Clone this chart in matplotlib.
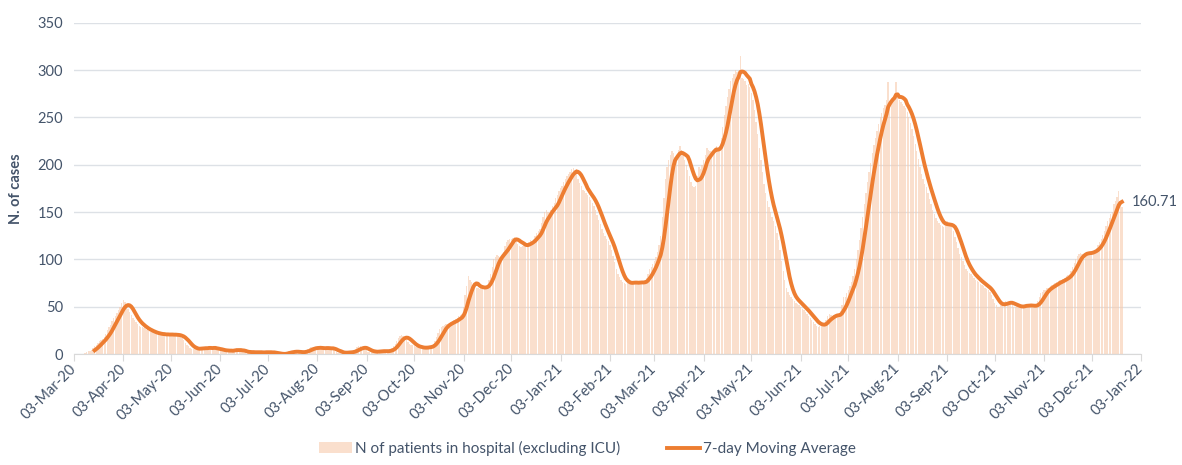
import pandas as pd
import matplotlib
matplotlib.use('Agg')
import matplotlib.pyplot as plt

plt.rcParams['font.family'] = ['Lato', 'DejaVu Sans']

# daily patients in hospital (excluding ICU)
mar20 = [1, 2, 3, 3, 4, 6, 8, 10, 12, 14, 15, 16, 18, 21, 25, 28, 31, 35, 38, 40, 43, 46]  # from 10 Mar
apr20 = [50, 54, 57, 55, 52, 48, 44, 41, 38, 36, 34, 32, 30, 29, 28, 27, 26, 25, 24, 23,
         23, 22, 22, 21, 21, 21, 20, 21, 21, 20]
may20 = [21, 20, 21, 20, 20, 21, 19, 20, 18, 17, 15, 12, 10, 8, 6, 5, 5, 6, 6, 5,
         6, 7, 6, 6, 7, 6, 7, 6, 6, 7, 6]
jun20 = [4, 4, 4, 4, 3, 4, 4, 3, 3, 4, 3, 5, 6, 5, 3, 3, 2, 2, 2, 2,
         2, 2, 2, 2, 1, 2, 2, 2, 2, 1]
jul20 = [2, 2, 2, 2, 2, 1, 1, 0, 0, 0, 0, 0, 0, 1, 2, 3, 3, 3, 2, 2,
         2, 2, 2, 2, 2, 2, 4, 5, 6, 7, 7]
aug20 = [7, 6, 6, 6, 7, 6, 6, 6, 7, 6, 5, 6, 6, 3, 2, 1, 1, 1, 1, 2,
         2, 2, 2, 2, 2, 3, 5, 7, 8, 8, 7]
sep20 = [6, 5, 4, 2, 2, 2, 2, 3, 3, 3, 3, 3, 3, 3, 3, 3, 3, 5, 6, 8,
         11, 14, 17, 19, 20, 19, 17, 15, 13, 11]
oct20 = [10, 9, 8, 7, 7, 6, 7, 7, 6, 7, 7, 8, 8, 9, 11, 14, 18, 22, 26, 28,
         30, 31, 32, 32, 33, 34, 35, 36, 37, 38, 40]
nov20 = [41, 42, 50, 62, 72, 82, 78, 76, 73, 71, 70, 70, 69, 70, 72, 70, 71, 73, 78, 84,
         92, 100, 103, 105, 104, 103, 104, 108, 114, 118]
dec20 = [120, 122, 121, 123, 124, 120, 116, 114, 113, 114, 116, 115, 117, 118, 120, 119, 122, 125, 128, 130,
         132, 138, 145, 150, 152, 150, 148, 152, 156, 160, 165]
jan21 = [168, 172, 175, 178, 182, 185, 188, 190, 192, 195, 196, 194, 195, 185, 181, 177, 173, 172, 170, 168,
         166, 163, 160, 156, 152, 147, 142, 137, 132, 128, 125]
feb21 = [122, 119, 115, 110, 104, 97, 90, 85, 81, 78, 76, 75, 74, 76, 75, 74, 76, 77, 76, 74,
         75, 76, 75, 76, 78, 80, 84, 90]
mar21 = [92, 95, 98, 102, 108, 115, 125, 145, 165, 185, 198, 205, 210, 214, 212, 208, 204, 215, 220, 216,
         210, 205, 200, 194, 188, 182, 178, 176, 178, 188, 198]
apr21 = [195, 200, 205, 210, 218, 216, 214, 212, 215, 218, 220, 216, 220, 228, 240, 252, 262, 272, 280, 288,
         292, 296, 300, 298, 296, 315, 292, 290, 288, 284]
may21 = [285, 282, 276, 268, 258, 245, 232, 218, 205, 192, 180, 170, 162, 155, 150, 145, 140, 135, 128, 120,
         110, 98, 88, 78, 70, 66, 62, 60, 58, 56, 54]
jun21 = [53, 52, 50, 48, 46, 44, 42, 40, 38, 36, 34, 32, 30, 29, 30, 31, 32, 33, 36, 40,
         42, 41, 40, 41, 40, 41, 42, 45, 52, 60]
jul21 = [60, 64, 68, 72, 76, 82, 90, 100, 110, 120, 133, 145, 158, 170, 182, 192, 202, 212, 221, 228,
         236, 243, 250, 255, 260, 263, 268, 287, 266, 268, 270]
aug21 = [272, 287, 270, 268, 266, 264, 262, 260, 256, 250, 244, 238, 230, 222, 214, 206, 198, 190, 185, 180,
         176, 170, 164, 158, 152, 148, 144, 140, 138, 136, 135]
sep21 = [134, 138, 140, 138, 136, 134, 130, 124, 118, 112, 106, 102, 98, 94, 90, 88, 86, 84, 82, 80,
         78, 77, 76, 74, 73, 72, 70, 69, 68, 66]
oct21 = [62, 58, 54, 52, 50, 50, 52, 54, 55, 56, 55, 54, 53, 52, 50, 50, 51, 50, 49, 50,
         51, 52, 53, 52, 51, 50, 49, 50, 52, 56, 60]
nov21 = [64, 66, 68, 68, 70, 70, 72, 73, 74, 75, 76, 77, 78, 78, 79, 80, 82, 83, 85, 88,
         92, 96, 100, 104, 106, 107, 106, 105, 106, 107]
dec21 = [107, 108, 108, 109, 110, 112, 115, 118, 122, 126, 130, 135, 140, 144, 148, 150, 158, 162, 166, 172,
         162, 155]  # to 22 Dec

hospital = (mar20 + apr20 + may20 + jun20 + jul20 + aug20 + sep20 + oct20 + nov20 + dec20
            + jan21 + feb21 + mar21 + apr21 + may21 + jun21 + jul21 + aug21 + sep21 + oct21
            + nov21 + dec21)
dates = pd.date_range('2020-03-10', periods=len(hospital), freq='D')
ma7 = pd.Series(hospital, index=dates).rolling(7).mean()

txt = '#44546A'
fig = plt.figure(figsize=(11.82, 4.65), dpi=100)
ax = fig.add_axes([0.0626, 0.2387, 0.9027, 0.7125])

bars = ax.bar(dates, hospital, width=0.85, color='#F8CBAD', alpha=0.6, linewidth=0,
              label='N of patients in hospital (excluding ICU)', zorder=2)
line, = ax.plot(ma7.index, ma7.values, color='#ED7D31', lw=2.8,
                label='7-day Moving Average', zorder=3)

last = ma7.iloc[-1]
ax.annotate(f'{last:.2f}', xy=(ma7.index[-1], last), xytext=(7, 0),
            textcoords='offset points', va='center', ha='left',
            fontsize=10.5, color=txt)

ax.set_xlim(pd.Timestamp('2020-03-03'), pd.Timestamp('2022-01-03'))
ax.set_ylim(0, 350)
ax.set_yticks(range(0, 351, 50))
ax.grid(axis='y', color='#DDE1E6', lw=1, zorder=0)
ax.set_axisbelow(True)

ticks = pd.date_range('2020-03-03', '2022-01-03', freq=pd.DateOffset(months=1))
ax.set_xticks(ticks)
ax.set_xticklabels([d.strftime('%d-%b-%y') for d in ticks], rotation=45,
                   ha='right', va='center', rotation_mode='anchor')

for s in ['top', 'right', 'left']:
    ax.spines[s].set_visible(False)
ax.spines['bottom'].set_color('#D9D9D9')
ax.tick_params(axis='x', colors='#D9D9D9', length=5, labelcolor=txt,
               labelsize=10.5, pad=4)
ax.tick_params(axis='y', length=0, labelcolor=txt, labelsize=10.5, pad=8)

ax.set_ylabel('N. of cases', fontsize=10.5, fontweight='bold', color=txt, labelpad=10)

fig.legend(handles=[bars, line], loc='lower center', bbox_to_anchor=(0.497, -0.01), ncol=2,
           frameon=False, fontsize=11, handlelength=2.2, columnspacing=3,
           handletextpad=0.2, labelcolor=txt)

plt.savefig('out.png', dpi=100)
